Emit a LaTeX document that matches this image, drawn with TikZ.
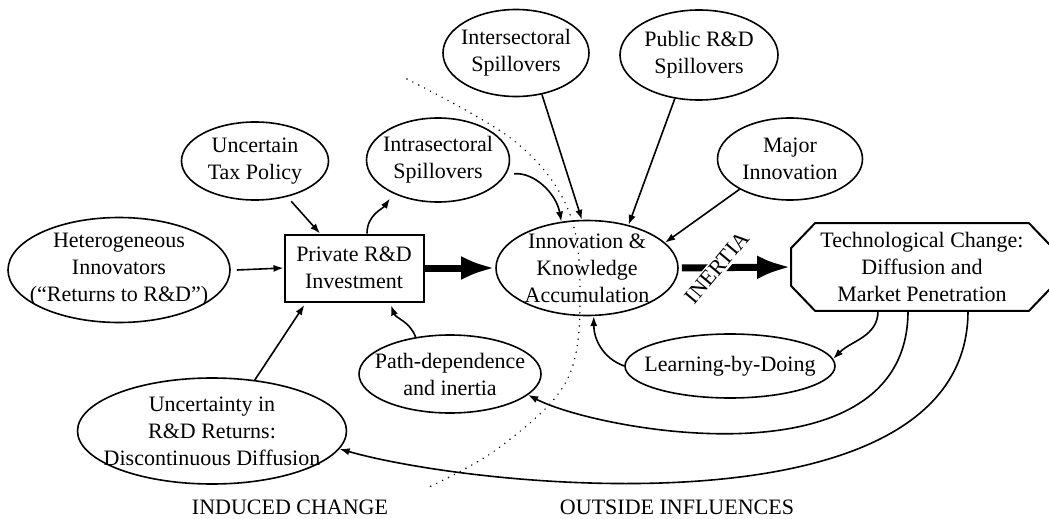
\documentclass[tikz,border=0pt]{standalone}
\usepackage{fontspec}
\setmainfont{Liberation Serif}
\usetikzlibrary{shapes.geometric, positioning, arrows.meta}

\begin{document}
\begin{tikzpicture}[x=0.5pt, y=-0.5pt,
  font=\fontsize{11}{13.5}\selectfont,
  bubble/.style={ellipse, draw, line width=0.8pt, inner xsep=-20pt,
    inner ysep=-12pt, align=center},
  arr/.style={line width=0.8pt, -{Latex[length=5pt,width=3.6pt]}},
  bigarr/.style={line width=3.5pt, -{Latex[length=17pt,width=12pt]}}]
  \useasboundingbox (0,0) rectangle (1049,519);

  % Induced side
  \node [bubble, minimum width=111pt, minimum height=52.5pt] (het) at (119,270)
  {Heterogeneous\\Innovators\\(“Returns to R\&D”)};%
  \node [bubble, minimum width=73.5pt, minimum height=39pt] (tax) at (255,161)
  {Uncertain\\Tax Policy};%
  \node [bubble, minimum width=71.5pt, minimum height=42pt] (intra) at (438,160)
  {Intrasectoral\\Spillovers};%
  \node [draw, line width=1pt, minimum width=69.5pt, minimum height=33.5pt,
  inner sep=0pt, align=center] (private) at (354,268) {Private R\&D\\Investment};%
  \node [bubble, minimum width=91pt, minimum height=39pt] (path) at (450,374)
  {Path-dependence\\and inertia};%
  \node [bubble, minimum width=134.5pt, minimum height=53pt] (unc) at (212,431)
  {Uncertainty in\\R\&D Returns:\\Discontinuous Diffusion};%

  % Outside influences
  \node [bubble, minimum width=73pt, minimum height=43.5pt] (inter) at (516,53)
  {Intersectoral\\Spillovers};%
  \node [bubble, minimum width=79pt, minimum height=45pt] (public) at (699,55)
  {Public R\&D\\Spillovers};%
  \node [bubble, minimum width=72.5pt, minimum height=41pt] (major) at (790,159)
  {Major\\Innovation};%
  \node [bubble, minimum width=91pt, minimum height=47.5pt] (innov) at (587,268)
  {Innovation \&\\Knowledge\\Accumulation};%
  \node [bubble, minimum width=105pt, minimum height=32pt] (learn) at (730,366)
  {Learning-by-Doing};%

  % -- octagon
  \node [minimum width=130.5pt, minimum height=43.5pt, inner sep=0pt,
  align=center] (tech) at (922,267)
  {Technological Change:\\Diffusion and\\Market Penetration};%
  \draw [line width=1pt] ([xshift=12pt]tech.north west) -- ([xshift=-12pt]tech.north east)
  -- ([yshift=-12.5pt]tech.north east) -- ([yshift=12.5pt]tech.south east)
  -- ([xshift=-12pt]tech.south east) -- ([xshift=12pt]tech.south west)
  -- ([yshift=12.5pt]tech.south west) -- ([yshift=-12.5pt]tech.north west) -- cycle;%

  % boundary
  \draw [line width=0.8pt, line cap=round, dash pattern=on 0pt off 3.3pt]
  plot [smooth, tension=0.6] coordinates {(407,79) (513,140) (567,207) (580,290)
    (567,380) (500,447) (427,488)};%
  \node (induced) at (290,507) {INDUCED CHANGE};%
  \node (outside) at (677,507) {OUTSIDE INFLUENCES};%

  % arrows
  \draw [arr] ([xshift=3pt]het.east) -- (private.west);%
  \draw [arr, shorten <=3pt] (tax.-48) -- ([xshift=-17pt]private.north);%
  \draw [arr, shorten >=3pt] ([xshift=6.5pt]private.north) to[out=90, in=235] (intra.217);%
  \draw [arr, shorten <=4pt] (intra.-12) to[out=5, in=100] (innov.119);%
  \draw [arr] (inter.-58) -- (innov.96);%
  \draw [arr] (public.-119) -- (innov.46);%
  \draw [arr] (major.211) -- (innov.18);%
  \draw [bigarr] (private.east) -- (innov.west);%
  \draw [bigarr, shorten <=1.5pt] (innov.east) -- node [pos=0.34, rotate=50,
  fill=white, inner sep=1pt] (inertia) {INERTIA} (tech.west);%
  \draw [arr, shorten >=1.5pt] (path.133) to[out=110, in=-70] ([xshift=18pt]private.south);%
  \draw [arr, shorten >=1.5pt] (unc.50) -- ([xshift=-24pt]private.south);%
  \draw [arr] (learn.west) to[out=160, in=-90] (innov.-82);%
  \draw [arr] ([xshift=-22pt]tech.south) to[out=-90, in=45] (learn.4);%
  \draw [arr] ([xshift=-7pt]tech.south) .. controls +(0,177) and +(69,36) .. (path.-15);%
  \draw [arr] ([xshift=23pt]tech.south) .. controls +(0,227) and +(140,40) .. (unc.-8);%
\end{tikzpicture}
\end{document}
